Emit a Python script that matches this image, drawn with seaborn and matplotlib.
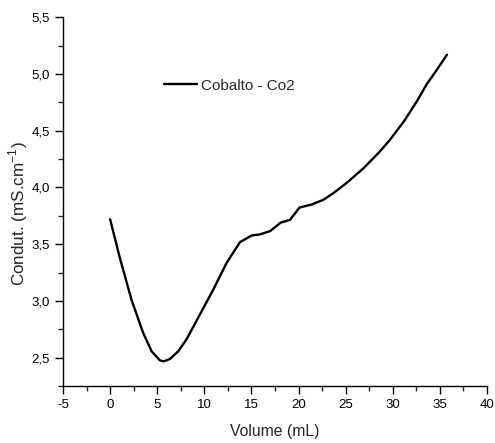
import matplotlib
matplotlib.use("Agg")
import matplotlib.pyplot as plt
import seaborn as sns
import pandas as pd
from matplotlib.ticker import FixedLocator, FixedFormatter, MultipleLocator

volume = [0.0, 1.0, 2.27, 3.5, 4.4, 5.28, 5.7, 6.34, 7.23, 8.1, 9.53, 10.95, 12.37,
          13.78, 15.03, 15.9, 16.97, 18.1, 19.1, 20.1, 21.4, 22.6, 23.7, 25.1, 26.9,
          28.66, 29.7, 31.2, 32.56, 33.6, 34.7, 35.75]
condut = [3.72, 3.39, 3.01, 2.72, 2.556, 2.476, 2.467, 2.488, 2.556, 2.66, 2.88, 3.1, 3.336,
          3.518, 3.577, 3.586, 3.615, 3.69, 3.715, 3.823, 3.85, 3.89, 3.95, 4.04, 4.17,
          4.32, 4.42, 4.585, 4.76, 4.91, 5.04, 5.17]
series_name = "Cobalto - Co2"

x_ticks = [-5, 0, 5, 10, 15, 20, 25, 30, 35, 40]
x_labels = ["-5", "0", "5", "10", "15", "20", "25", "30", "35", "40"]
y_ticks = [2.5, 3.0, 3.5, 4.0, 4.5, 5.0, 5.5]
y_labels = ["2,5", "3,0", "3,5", "4,0", "4,5", "5,0", "5,5"]

df = pd.DataFrame({"Volume": volume, "Condut": condut, "Série": series_name})

sns.set_theme(style="ticks")
plt.rcParams['font.family'] = ['Liberation Sans', 'DejaVu Sans']
plt.rcParams['mathtext.fontset'] = 'custom'
plt.rcParams['mathtext.rm'] = 'Liberation Sans'

fig = plt.figure(figsize=(4.95, 4.43), dpi=100)
ax = fig.add_axes([63/495, 1-386/443, (487-63)/495, (386-17.3)/443])

sns.lineplot(data=df, x="Volume", y="Condut", hue="Série", palette=["black"],
             sort=False, linewidth=1.7, ax=ax)

ax.set_xlim(-5, 40)
ax.set_ylim(2.25, 5.5)
ax.xaxis.set_major_locator(FixedLocator(x_ticks))
ax.xaxis.set_major_formatter(FixedFormatter(x_labels))
ax.yaxis.set_major_locator(FixedLocator(y_ticks))
ax.yaxis.set_major_formatter(FixedFormatter(y_labels))
ax.xaxis.set_minor_locator(MultipleLocator(2.5))
ax.yaxis.set_minor_locator(MultipleLocator(0.25))
ax.tick_params(which='major', direction='out', length=5.5, width=1, labelsize=9.5,
               colors='black', pad=4)
ax.tick_params(which='minor', direction='out', length=3.5, width=1)
for s in ['top', 'right']:
    ax.spines[s].set_visible(False)
for s in ['left', 'bottom']:
    ax.spines[s].set_linewidth(1.0)
    ax.spines[s].set_color('black')

ax.set_xlabel("Volume (mL)", fontsize=11.3, labelpad=9)
ax.set_ylabel("Condut. (mS.cm$^{\\mathregular{-1}}$)", fontsize=12.3)
ax.yaxis.set_label_coords(-0.079, 0.468)

leg = ax.legend(loc='center left', bbox_to_anchor=(0.205, 0.815), frameon=False,
                fontsize=11, handlelength=2.2, handletextpad=0.25)

fig.savefig("out.png", dpi=100)
